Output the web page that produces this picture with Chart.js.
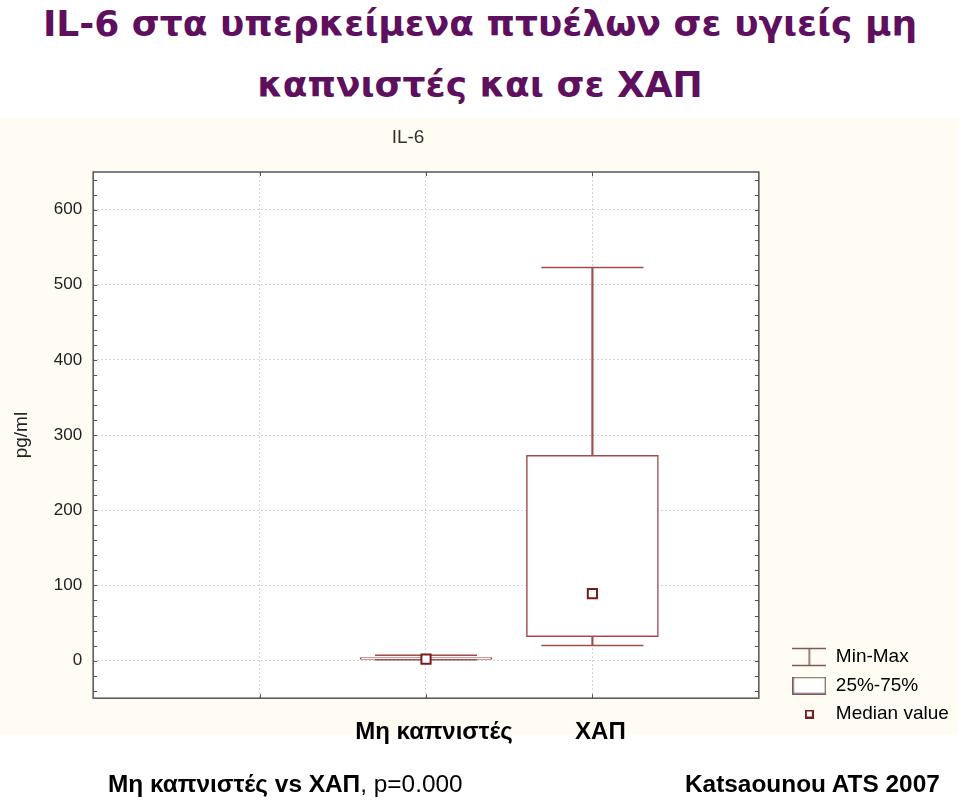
<!DOCTYPE html>
<html>
<head>
<meta charset="utf-8">
<title>IL-6</title>
<script src="https://cdn.jsdelivr.net/npm/chart.js@4.4.1/dist/chart.umd.min.js"></script>
<style>
    html, body { margin: 0; padding: 0; background: #ffffff; }
    #slide { position: relative; width: 960px; height: 801px; overflow: hidden; background: #ffffff; }
    .headline {
        position: absolute; left: 0; width: 960px; text-align: center;
        font-family: "DejaVu Sans", Verdana, sans-serif; font-weight: bold;
        font-size: 36px; line-height: 40px; color: #5e0f5e; white-space: nowrap;
    }
    #chartTitle {
        position: absolute; left: 358px; top: 126px; width: 100px; text-align: center;
        font-family: "Liberation Sans", Arial, sans-serif; font-size: 19px; color: #333333;
    }
    #chartBox { position: absolute; left: 0; top: 118px; width: 958px; height: 653px; }
    .footer {
        position: absolute; top: 770px; font-family: "Liberation Sans", Arial, sans-serif;
        font-size: 24.4px; color: #000000; white-space: nowrap;
    }
</style>
</head>
<body>
<div id="slide">
    <div class="headline" style="top: 4px;">IL-6 στα υπερκείμενα πτυέλων σε υγιείς μη</div>
    <div class="headline" style="top: 65px;">καπνιστές και σε ΧΑΠ</div>
    <div id="chartBox"><canvas id="il6"></canvas></div>
    <div id="chartTitle">IL-6</div>
    <div class="footer" style="left: 108px;"><b>Μη καπνιστές vs ΧΑΠ</b>, p=0.000</div>
    <div class="footer" style="left: 685px;"><b>Katsaounou ATS 2007</b></div>
</div>
<script>
(function () {
    "use strict";

    // groups on the x axis (empty slots keep the original spacing)
    var categories = ["", "", "Μη καπνιστές", "ΧΑΠ", ""];
    // box plot values, pg/ml
    var minValues = [null, null, 1, 20, null];
    var q1Values = [null, null, 1.5, 32, null];
    var medianValues = [null, null, 2, 89, null];
    var q3Values = [null, null, 4, 273, null];
    var maxValues = [null, null, 7, 523, null];
    var yTicks = [0, 100, 200, 300, 400, 500, 600];
    var legendLabels = ["Min-Max", "25%-75%", "Median value"];

    var lineColor = "#a14d4d";
    var medianColor = "#7a1c1c";
    var cream = "#fffcf4";

    function pairs(lo, hi) {
        return lo.map(function (v, i) {
            return v === null ? null : [v, hi[i]];
        });
    }

    function icon(w, h, draw) {
        var c = document.createElement("canvas");
        c.width = w;
        c.height = h;
        var ctx = c.getContext("2d");
        draw(ctx);
        return c;
    }

    var iconMinMax = icon(34, 20, function (ctx) {
        ctx.strokeStyle = "#7d5a5a";
        ctx.lineWidth = 1.5;
        ctx.beginPath();
        ctx.moveTo(0, 1.5); ctx.lineTo(34, 1.5);
        ctx.moveTo(0, 18.5); ctx.lineTo(34, 18.5);
        ctx.moveTo(17, 1.5); ctx.lineTo(17, 18.5);
        ctx.stroke();
    });
    var iconBox = icon(34, 18, function (ctx) {
        ctx.fillStyle = "#ffffff";
        ctx.fillRect(1, 1, 32, 16);
        ctx.strokeStyle = "#7d5a5a";
        ctx.lineWidth = 1.5;
        ctx.strokeRect(0.75, 0.75, 32.5, 16.5);
    });
    var iconMedian = icon(9, 9, function (ctx) {
        ctx.fillStyle = "#ffffff";
        ctx.fillRect(1, 1, 7, 7);
        ctx.strokeStyle = medianColor;
        ctx.lineWidth = 2;
        ctx.strokeRect(1, 1, 7, 7);
    });

    var backdrop = {
        id: "backdrop",
        beforeDraw: function (chart) {
            var ctx = chart.ctx;
            var a = chart.chartArea;
            ctx.save();
            ctx.fillStyle = cream;
            ctx.fillRect(0, 0, chart.width, 617);
            ctx.fillStyle = "#ffffff";
            ctx.fillRect(a.left, a.top, a.right - a.left, a.bottom - a.top);
            ctx.restore();
        },
        afterDraw: function (chart) {
            var ctx = chart.ctx;
            var a = chart.chartArea;
            var y = chart.scales.y;
            var x = chart.scales.x;
            ctx.save();
            ctx.strokeStyle = "#555555";
            ctx.lineWidth = 1.5;
            ctx.strokeRect(a.left, a.top, a.right - a.left, a.bottom - a.top);
            ctx.lineWidth = 1;
            ctx.beginPath();
            for (var v = Math.ceil(y.min / 20) * 20; v <= y.max; v += 20) {
                var py = Math.round(y.getPixelForValue(v)) + 0.5;
                ctx.moveTo(a.left, py); ctx.lineTo(a.left + 4, py);
                ctx.moveTo(a.right, py); ctx.lineTo(a.right - 4, py);
            }
            for (var i = 1; i < categories.length - 1; i++) {
                var px = Math.round(x.getPixelForValue(i)) + 0.5;
                ctx.moveTo(px, a.top); ctx.lineTo(px, a.top + 4);
                ctx.moveTo(px, a.bottom); ctx.lineTo(px, a.bottom - 4);
            }
            ctx.stroke();
            ctx.restore();
        },
        afterLayout: function (chart) {
            var lg = chart.legend;
            if (lg) {
                // sit the legend low, like the original, and let the text run to the edge
                lg.top -= 34;
                lg.bottom -= 34;
                lg.right = chart.width;
                lg.width = lg.right - lg.left;
            }
        }
    };

    new Chart(document.getElementById("il6"), {
        type: "bar",
        data: {
            labels: categories,
            datasets: [
                {
                    type: "line",
                    label: "Median value",
                    data: medianValues,
                    showLine: false,
                    pointStyle: "rect",
                    pointRadius: 6.5,
                    pointBorderWidth: 2,
                    pointBorderColor: medianColor,
                    pointBackgroundColor: "#ffffff"
                },
                {
                    label: "25%-75%",
                    data: pairs(q1Values, q3Values),
                    grouped: false,
                    barThickness: 132,
                    backgroundColor: "#ffffff",
                    borderColor: lineColor,
                    borderWidth: 1.5,
                    borderSkipped: false
                },
                {
                    type: "line",
                    label: "Max",
                    data: maxValues,
                    showLine: false,
                    pointStyle: "line",
                    pointRadius: 51,
                    pointBorderWidth: 1.5,
                    pointBorderColor: lineColor
                },
                {
                    type: "line",
                    label: "Min",
                    data: minValues,
                    showLine: false,
                    pointStyle: "line",
                    pointRadius: 51,
                    pointBorderWidth: 1.5,
                    pointBorderColor: lineColor
                },
                {
                    label: "Min-Max",
                    data: pairs(minValues, maxValues),
                    grouped: false,
                    barThickness: 1.5,
                    backgroundColor: lineColor,
                    borderWidth: 0
                }
            ]
        },
        options: {
            responsive: true,
            maintainAspectRatio: false,
            animation: false,
            events: [],
            layout: {
                padding: { left: 7, right: 20, top: 54, bottom: 4 }
            },
            scales: {
                x: {
                    type: "category",
                    offset: false,
                    grid: {
                        offset: false,
                        drawTicks: false,
                        color: "#d4d4d4"
                    },
                    border: { display: false, dash: [2, 2] },
                    ticks: {
                        autoSkip: false,
                        maxRotation: 0,
                        padding: 20,
                        labelOffset: 8,
                        color: "#000000",
                        font: { size: 24, weight: "bold" }
                    }
                },
                y: {
                    min: -50,
                    max: 650,
                    afterBuildTicks: function (scale) {
                        scale.ticks = yTicks.map(function (v) { return { value: v }; });
                    },
                    grid: {
                        drawTicks: false,
                        color: "#d4d4d4"
                    },
                    border: { display: false, dash: [2, 2] },
                    ticks: {
                        padding: 11,
                        color: "#222222",
                        font: { size: 17 }
                    },
                    title: {
                        display: true,
                        text: "pg/ml",
                        color: "#222222",
                        font: { size: 19 },
                        padding: { top: 3, bottom: 10 }
                    }
                },
                gap: {
                    type: "linear",
                    position: "right",
                    display: true,
                    grid: { display: false },
                    border: { display: false },
                    ticks: { display: false },
                    afterFit: function (scale) { scale.width = 24; }
                }
            },
            plugins: {
                tooltip: { enabled: false },
                legend: {
                    position: "right",
                    align: "end",
                    labels: {
                        usePointStyle: true,
                        pointStyleWidth: 34,
                        padding: 9.5,
                        color: "#333333",
                        font: { size: 19 },
                        generateLabels: function () {
                            var icons = [iconMinMax, iconBox, iconMedian];
                            var sets = [4, 1, 0];
                            return legendLabels.map(function (text, i) {
                                return {
                                    text: text,
                                    pointStyle: icons[i],
                                    fillStyle: "transparent",
                                    strokeStyle: "transparent",
                                    lineWidth: 0,
                                    hidden: false,
                                    datasetIndex: sets[i]
                                };
                            });
                        }
                    }
                }
            }
        },
        plugins: [backdrop]
    });
})();
</script>
</body>
</html>
